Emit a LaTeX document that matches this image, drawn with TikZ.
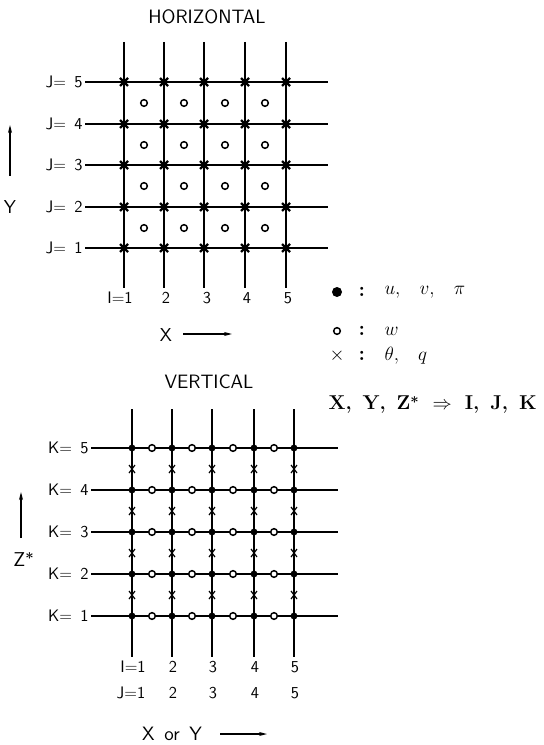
\documentclass[tikz,border=0pt]{standalone}
\usepackage{amsmath}
\usepackage{amssymb}
\usetikzlibrary{arrows.meta}

\tikzset{every picture/.style={line width=0.75pt}}
\tikzset{
  lbl/.style={font=\sffamily\fontsize{12.5}{14}\selectfont, inner sep=0.75pt},
  ttl/.style={font=\sffamily\fontsize{14.5}{17}\selectfont, inner sep=0.75pt},
  leg/.style={font=\fontsize{15.5}{18}\selectfont, inner sep=0.75pt, anchor=west},
  grd/.style={line width=1pt},
  xmark/.style={line width=1.6pt},
  smallx/.style={line width=0.9pt},
  wdot/.style={draw, circle, line width=1.1pt, fill=white, inner sep=0pt, minimum size=5pt},
  udot/.style={circle, fill=black, inner sep=0pt, minimum size=5.2pt},
  arr/.style={-{Stealth[length=6pt,width=3pt]}, line width=1pt},
}

\begin{document}
\begin{tikzpicture}[x=0.75pt,y=0.75pt,yscale=-1,xscale=1]
\useasboundingbox (0,0) rectangle (543,745);

%Horizontal grid
\node[ttl] (ttlH) at (207,17) {HORIZONTAL};
\foreach \x in {124,164,204,245,286}
  \draw[grd] (\x,42) -- (\x,288);
\foreach \y in {82,124,165,207,248}
  \draw[grd] (85,\y) -- (328,\y);
% theta, q points
\foreach \x in {124,164,204,245,286}
  \foreach \y in {82,124,165,207,248}
    \draw[xmark] (\x,\y) ++(-4,-4) -- ++(8,8) ++(-8,0) -- ++(8,-8);
% w points
\foreach \x in {144,184,225,265}
  \foreach \y in {103,145,186,228}
    \node[wdot] at (\x,\y) {};

% Text Node
\node[lbl, anchor=east] (lJ5) at (84,82) {J=\enspace 5};
\node[lbl, anchor=east] (lJ4) at (84,124) {J=\enspace 4};
\node[lbl, anchor=east] (lJ3) at (84,165) {J=\enspace 3};
\node[lbl, anchor=east] (lJ2) at (84,207) {J=\enspace 2};
\node[lbl, anchor=east] (lJ1) at (84,248) {J=\enspace 1};
\node[lbl] (lI1) at (120,298) {I=1};
\node[lbl] (lI2) at (166,298) {2};
\node[lbl] (lI3) at (207,298) {3};
\node[lbl] (lI4) at (247,298) {4};
\node[lbl] (lI5) at (288,298) {5};
\node[lbl, font=\sffamily\fontsize{14}{16}\selectfont] (ylab) at (10,207) {Y};
\node[lbl, font=\sffamily\fontsize{14}{16}\selectfont] (xlab) at (166,335) {X};

\coordinate (yarrA) at (10,176);
\coordinate (yarrB) at (10,125);
\draw[arr] (yarrA) -- (yarrB);
\coordinate (xarrA) at (183,334);
\coordinate (xarrB) at (232,334);
\draw[arr] (xarrA) -- (xarrB);

%Vertical grid
\node[ttl] (ttlV) at (209,382) {VERTICAL};
\foreach \x in {132,172,212,254,294}
  \draw[grd] (\x,409) -- (\x,657);
\foreach \y in {448,490,532,574,616}
  \draw[grd] (91,\y) -- (338,\y);
% theta, q points
\foreach \x in {132,172,212,254,294}
  \foreach \y in {469,511,553,595}
    \draw[smallx] (\x,\y) ++(-3,-4) -- ++(6,8) ++(-6,0) -- ++(6,-8);
% w points
\foreach \x in {152,192,233,274}
  \foreach \y in {448,490,532,574,616}
    \node[wdot] at (\x,\y) {};
% u, v, pi points
\foreach \x in {132,172,212,254,294}
  \foreach \y in {448,490,532,574,616}
    \node[udot] at (\x,\y) {};

% Text Node
\node[lbl, anchor=east] (lK5) at (90,448) {K=\enspace 5};
\node[lbl, anchor=east] (lK4) at (90,490) {K=\enspace 4};
\node[lbl, anchor=east] (lK3) at (90,532) {K=\enspace 3};
\node[lbl, anchor=east] (lK2) at (90,574) {K=\enspace 2};
\node[lbl, anchor=east] (lK1) at (90,616) {K=\enspace 1};
\node[lbl] (mI1) at (133,667) {I=1};
\node[lbl] (mI2) at (173,667) {2};
\node[lbl] (mI3) at (213,667) {3};
\node[lbl] (mI4) at (255,667) {4};
\node[lbl] (mI5) at (295,667) {5};
\node[lbl] (mJ1) at (131,693) {J=1};
\node[lbl] (mJ2) at (173,693) {2};
\node[lbl] (mJ3) at (213,693) {3};
\node[lbl] (mJ4) at (255,693) {4};
\node[lbl] (mJ5) at (295,693) {5};
\node[lbl, font=\sffamily\fontsize{15}{17}\selectfont] (zlab) at (24,560) {Z$^{\boldsymbol *}$};
\node[lbl, font=\sffamily\fontsize{14.5}{17}\selectfont] (xylab) at (172,734) {X\enspace or\enspace Y};

\coordinate (zarrA) at (21,538);
\coordinate (zarrB) at (21,492);
\draw[arr] (zarrA) -- (zarrB);
\coordinate (xyarrA) at (220,734);
\coordinate (xyarrB) at (267,734);
\draw[arr] (xyarrA) -- (xyarrB);

%Legend
\node[udot, minimum size=7.5pt] (legU) at (337,292) {};
\node[leg] (colU) at (357,292) {\textbf{:}};
\node[leg] (txtU) at (383,292) {$u,\;\;\; v,\;\;\; \pi$};
\node[wdot] (legW) at (337,331) {};
\node[leg] (colW) at (357,331) {\textbf{:}};
\node[leg] (txtW) at (383,331) {$w$};
\node[leg] (legT) at (328,356) {$\times$};
\node[leg] (colT) at (357,356) {\textbf{:}};
\node[leg] (txtT) at (383,356) {$\theta,\;\;\; q$};
\node[leg, font=\fontsize{15}{18}\selectfont\bfseries] (legMap) at (327,405)
  {X,\, Y,\, Z$^{\boldsymbol *}$\; $\Rightarrow$\; I,\, J,\, K};

\end{tikzpicture}
\end{document}
